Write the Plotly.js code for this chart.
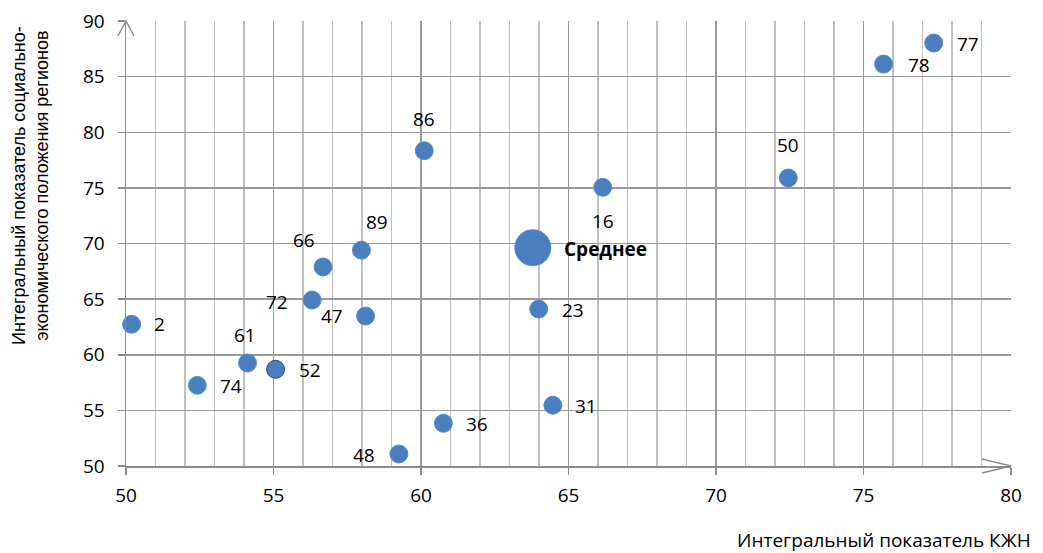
<!DOCTYPE html>
<html>
<head>
<meta charset="utf-8">
<script src="https://cdn.plot.ly/plotly-3.0.1.min.js"></script>
<style>html,body{margin:0;padding:0;background:#fff;}#chart{width:1043px;height:553px;}</style>
</head>
<body>
<div id="chart"></div>
<script>
// Region codes (labels) and values
const regionLabels = ["2", "74", "61", "52", "72", "47", "48", "36", "86", "16", "23", "31", "66", "89", "50", "78", "77"];
const kzhnIndex    = [50.19, 52.42, 54.12, 55.07, 56.31, 58.12, 59.25, 60.76, 60.11, 66.16, 63.99, 64.47, 56.68, 57.98, 72.45, 75.68, 77.38];
const socEcoIndex  = [62.74, 57.25, 59.26, 58.69, 64.92, 63.48, 51.08, 53.84, 78.34, 75.05, 64.11, 55.46, 67.89, 69.40, 75.89, 86.13, 88.02];

const meanLabel = "Среднее";
const meanKzhn = 63.79;
const meanSocEco = 69.62;

const xTitle = "Интегральный показатель КЖН";
const yTitle = "Интегральный показатель социально-<br>экономического положения регионов";

// label offsets (pixels, style only)
const labelShiftX = [28, 34, -3, 34, -35, -34, -35, 34, 0, 0, 34, 33, -19, 16, 0, 35, 34];
const labelShiftY = [0, -1, 28, -1, -2, 0, -1, -1, 32, -34, -1, -1, 27, 28, 33, -1, -1];
const lineColors = regionLabels.map(l => l === "74" ? "#4bacc6" : (l === "52" ? "#2c4d75" : "#5a8cc8"));

const FONT = "'Open Sans', 'DejaVu Sans', sans-serif";
const YFONT = "'Liberation Sans', Arial, sans-serif";

const traces = [
  {
    type: "scatter", mode: "markers",
    x: kzhnIndex, y: socEcoIndex,
    marker: {size: 18, color: "#4a7ebf", line: {color: lineColors, width: 1}},
    hoverinfo: "skip", showlegend: false, cliponaxis: false
  },
  {
    type: "scatter", mode: "markers",
    x: [meanKzhn], y: [meanSocEco],
    marker: {size: 36, color: "#4a7ebf", line: {color: "#5a8cc8", width: 1}},
    hoverinfo: "skip", showlegend: false, cliponaxis: false
  }
];

const annotations = regionLabels.map((lab, i) => ({
  x: kzhnIndex[i], y: socEcoIndex[i], xref: "x", yref: "y",
  text: lab, showarrow: false,
  xshift: labelShiftX[i], yshift: labelShiftY[i],
  font: {family: FONT, size: 19, color: "#000"}
}));
annotations.push({
  x: meanKzhn, y: meanSocEco, xref: "x", yref: "y",
  text: "<b>" + meanLabel + "</b>", showarrow: false,
  xanchor: "left", xshift: 29, yshift: -1,
  font: {family: FONT, size: 19, color: "#000"}
});
annotations.push({
  x: (884 - 126) / 885, y: (466 - 540) / 445, xref: "paper", yref: "paper",
  text: xTitle, showarrow: false, xanchor: "center", yanchor: "middle",
  font: {family: FONT, size: 19, color: "#000"}
});
annotations.push({
  x: (30 - 126) / 885, y: (466 - 186) / 445, xref: "paper", yref: "paper",
  text: yTitle, showarrow: false, textangle: -90, xanchor: "center", yanchor: "middle",
  font: {family: YFONT, size: 18, color: "#000"}
});

const shapes = [
  {type: "path", xref: "paper", yref: "paper", xsizemode: "pixel", ysizemode: "pixel",
   xanchor: 1, yanchor: 0, path: "M -29,7 L 0,0 L -29,-7",
   line: {color: "#8c8c8c", width: 1.5}},
  {type: "path", xref: "paper", yref: "paper", xsizemode: "pixel", ysizemode: "pixel",
   xanchor: 0, yanchor: 1, path: "M -8,-15 L 0,0 L 8,-15",
   line: {color: "#8c8c8c", width: 1.5}}
];

const layout = {
  width: 1043, height: 553,
  margin: {l: 126, r: 32, t: 21, b: 87},
  paper_bgcolor: "#fff", plot_bgcolor: "#fff",
  font: {family: FONT, size: 19, color: "#000"},
  showlegend: false,
  xaxis: {
    range: [50, 80], dtick: 5, tick0: 50,
    showgrid: true, gridcolor: "#9a9a9a", gridwidth: 1.5,
    minor: {dtick: 1, showgrid: true, gridcolor: "#c0c0c0", gridwidth: 1.5, ticks: ""},
    showline: true, linecolor: "#8c8c8c", linewidth: 1.5,
    ticks: "outside", ticklen: 7, tickcolor: "#8c8c8c", tickwidth: 1.5,
    ticklabelstandoff: 5,
    tickfont: {family: FONT, size: 19, color: "#000"},
    zeroline: false, fixedrange: true
  },
  yaxis: {
    range: [50, 90], dtick: 5, tick0: 50,
    showgrid: true, gridcolor: "#9a9a9a", gridwidth: 1.5,
    showline: true, linecolor: "#8c8c8c", linewidth: 1.5,
    ticks: "outside", ticklen: 7, tickcolor: "#8c8c8c", tickwidth: 1.5,
    ticklabelstandoff: 9,
    tickfont: {family: FONT, size: 19, color: "#000"},
    zeroline: false, fixedrange: true
  },
  annotations: annotations,
  shapes: shapes
};

Plotly.newPlot("chart", traces, layout, {staticPlot: true, displayModeBar: false});
</script>
</body>
</html>
